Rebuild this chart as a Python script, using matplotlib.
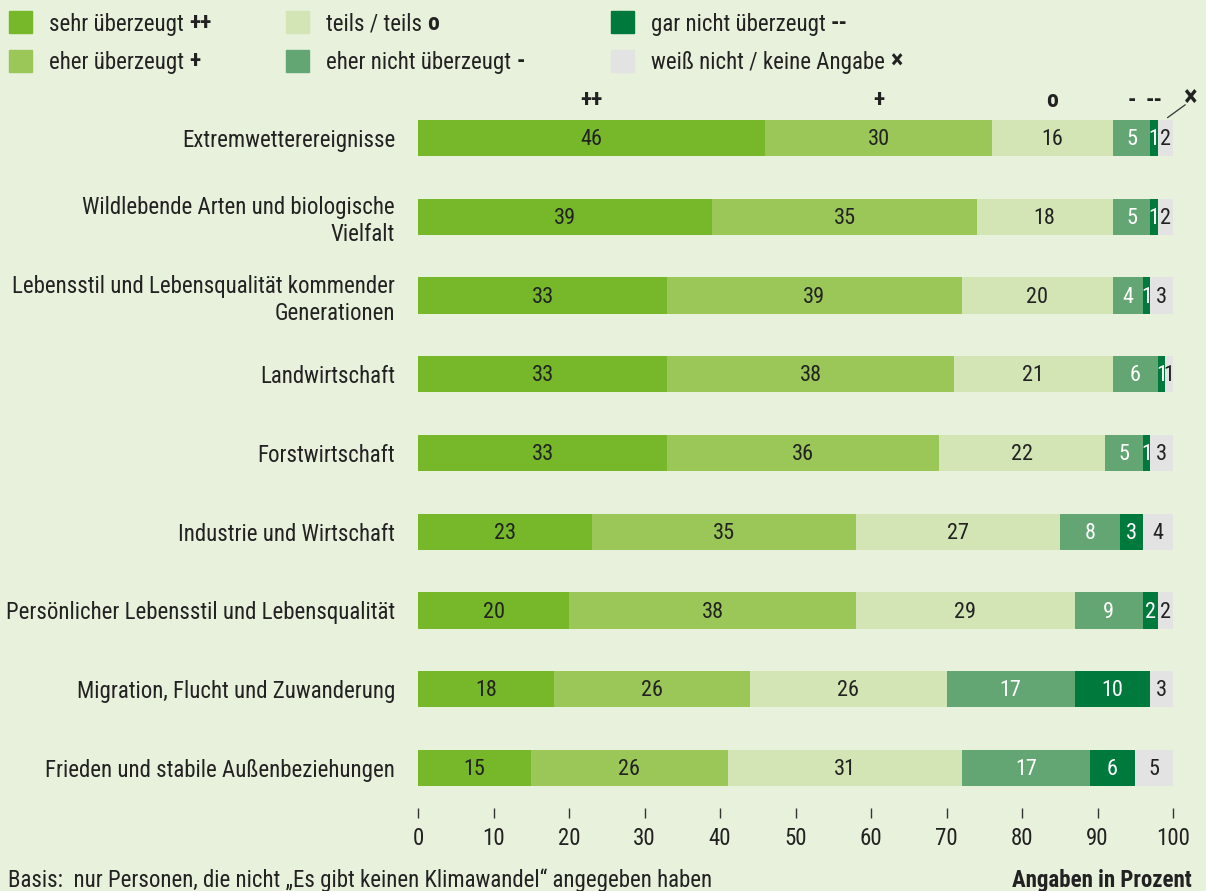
import matplotlib.pyplot as plt
import numpy as np

plt.rcParams['font.family'] = ['Roboto Condensed', 'Open Sans Condensed',
                               'Liberation Sans Narrow', 'Lato', 'DejaVu Sans']

# survey topics, top to bottom
topics = [
    "Extremwetterereignisse",
    "Wildlebende Arten und biologische\nVielfalt",
    "Lebensstil und Lebensqualität kommender\nGenerationen",
    "Landwirtschaft",
    "Forstwirtschaft",
    "Industrie und Wirtschaft",
    "Persönlicher Lebensstil und Lebensqualität",
    "Migration, Flucht und Zuwanderung",
    "Frieden und stabile Außenbeziehungen",
]

sehr = [46, 39, 33, 33, 33, 23, 20, 18, 15]
eher = [30, 35, 39, 38, 36, 35, 38, 26, 26]
teils = [16, 18, 20, 21, 22, 27, 29, 26, 31]
eher_nicht = [5, 5, 4, 6, 5, 8, 9, 17, 17]
gar_nicht = [1, 1, 1, 1, 1, 3, 2, 10, 6]
weiss_nicht = [2, 2, 3, 1, 3, 4, 2, 3, 5]

series = [sehr, eher, teils, eher_nicht, gar_nicht, weiss_nicht]
legend_labels = [
    ("sehr überzeugt", "++"),
    ("eher überzeugt", "+"),
    ("teils / teils", "o"),
    ("eher nicht überzeugt", "-"),
    ("gar nicht überzeugt", "--"),
    ("weiß nicht / keine Angabe", "×"),
]
colors = ["#76b82a", "#9bc658", "#d3e4b5", "#63a673", "#007a3c", "#e3e3e3"]
text_colors = ["#222222", "#222222", "#222222", "white", "white", "#222222"]
bg = "#e8f1dc"
fs = 16.5

fig = plt.figure(figsize=(12.06, 8.91), dpi=100, facecolor=bg)
W, H = 1206, 891
ax = fig.add_axes([418 / W, 1 - 808 / H, (1173 - 418) / W, (808 - 106) / H])
ax.set_facecolor(bg)

y = np.arange(len(topics))
left = np.zeros(len(topics))
for vals, col, tcol in zip(series, colors, text_colors):
    vals = np.array(vals, dtype=float)
    ax.barh(y, vals, left=left, height=0.46, color=col, edgecolor="none")
    for yi, l, v in zip(y, left, vals):
        ax.text(l + v / 2, yi + 0.02, f"{int(v)}", ha="center", va="center",
                fontsize=16, color=tcol)
    left += vals

ax.set_xlim(0, 100)
ax.set_ylim(8.508, -0.406)
ax.set_yticks(y)
ax.set_yticklabels(topics, fontsize=fs, color="#222222", linespacing=1.2)
ax.tick_params(axis="y", length=0, pad=16.5)
ax.set_xticks(np.arange(0, 101, 10))
ax.tick_params(axis="x", direction="out", length=7.5, width=1, color="#333333",
               labelsize=fs, labelcolor="#222222", pad=6)
for s in ax.spines.values():
    s.set_visible(False)

# category markers above the first bar
first = [s[0] for s in series]
starts = np.cumsum([0] + first[:-1])
for k in range(5):
    ax.text(starts[k] + first[k] / 2, -0.47, legend_labels[k][1], ha="center",
            va="center", fontsize=17, fontweight="bold", color="#222222")
ax.text(102.3, -0.5, "×", ha="center", va="center", fontsize=21,
        fontweight="bold", color="#222222", clip_on=False)
ax.plot([99.3, 101.6], [-0.26, -0.42], color="#333333", lw=0.9, clip_on=False)

# legend
col_x = [9, 286, 611]
row_y = [22, 61]
for i, ((lab, sym), col) in enumerate(zip(legend_labels, colors)):
    cx = col_x[i // 2]
    cy = row_y[i % 2]
    fig.patches.append(plt.Rectangle((cx / W, 1 - (cy + 11) / H), 23 / W, 22 / H,
                                     transform=fig.transFigure, color=col))
    t = fig.text((cx + 40) / W, 1 - (cy + 2) / H, lab + " ", fontsize=fs,
                 color="#222222", va="center", ha="left")
    fig.canvas.draw()
    bb = t.get_window_extent()
    fig.text(bb.x1 / W, 1 - (cy + 1) / H, sym, fontsize=17 if sym != "×" else 19,
             fontweight="bold", color="#222222", va="center", ha="left")

fig.text(8 / W, 1 - 880 / H,
         "Basis:  nur Personen, die nicht „Es gibt keinen Klimawandel“ angegeben haben",
         fontsize=fs, color="#222222", va="center", ha="left")
fig.text(1192 / W, 1 - 880 / H, "Angaben in Prozent", fontsize=fs,
         fontweight="bold", color="#222222", va="center", ha="right")

fig.savefig("out.png", dpi=100, facecolor=bg)
